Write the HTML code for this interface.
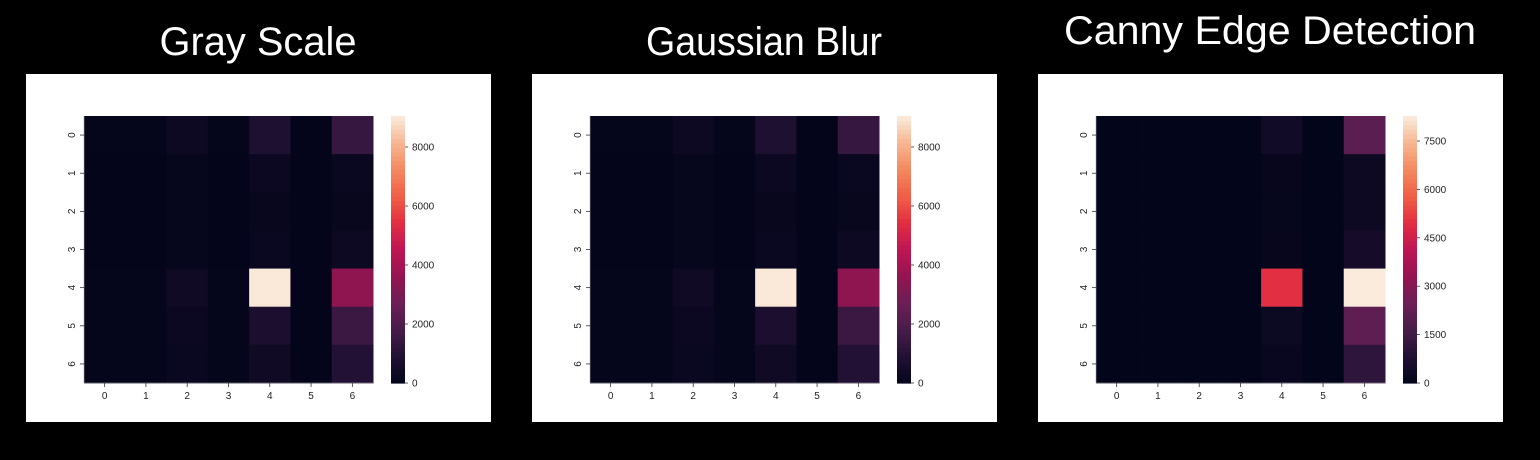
<!DOCTYPE html>
<html><head><meta charset="utf-8"><style>
body{margin:0;background:#000;width:1540px;height:460px;overflow:hidden}
svg{display:block}
text{font-family:"Liberation Sans",sans-serif}
</style></head><body>
<svg id="root" width="1540" height="460">
<rect width="1540" height="460" fill="#000"/>
</svg>
<script>
const rowLabels=["0","1","2","3","4","5","6"];
const colLabels=["0","1","2","3","4","5","6"];
const titles=["Gray Scale","Gaussian Blur","Canny Edge Detection"];
const grayValues=[
[50,50,300,50,800,20,1400],
[30,30,100,30,250,30,200],
[30,30,80,30,150,30,150],
[30,30,80,30,200,30,300],
[50,50,400,50,9000,30,3500],
[50,50,250,50,700,30,1500],
[50,50,200,50,400,30,900]];
const blurValues=[
[50,50,300,50,800,20,1400],
[30,30,100,30,250,30,200],
[30,30,80,30,150,30,150],
[30,30,80,30,200,30,300],
[50,50,400,50,9000,30,3500],
[50,50,250,50,700,30,1500],
[50,50,200,50,400,30,900]];
const cannyValues=[
[0,0,0,0,400,0,2100],
[0,0,0,0,100,0,300],
[0,0,0,0,80,0,300],
[0,0,0,0,100,0,500],
[0,0,0,0,5000,0,8275],
[0,0,0,0,250,0,2200],
[0,0,0,0,150,0,1100]];
const grayTicks=[0,2000,4000,6000,8000];
const blurTicks=[0,2000,4000,6000,8000];
const cannyTicks=[0,1500,3000,4500,6000,7500];
const grayMax=9050, blurMax=9050, cannyMax=8275;

const NS="http://www.w3.org/2000/svg";
const root=document.getElementById('root');
const stops=[[0,[3,5,26]],[0.1,[34,17,52]],[0.2,[70,28,72]],[0.3,[108,31,86]],[0.4,[148,20,80]],[0.5,[190,22,84]],[0.6,[226,45,66]],[0.7,[240,95,70]],[0.8,[244,136,95]],[0.9,[246,182,145]],[1,[250,235,221]]];
function rocket(t){t=Math.max(0,Math.min(1,t));for(let i=1;i<stops.length;i++){if(t<=stops[i][0]){const a=stops[i-1],b=stops[i];const f=(t-a[0])/(b[0]-a[0]);return 'rgb('+a[1].map((v,k)=>Math.round(v+(b[1][k]-v)*f)).join(',')+')';}}return 'rgb(250,235,221)';}
function el(tag,attrs,parent){const e=document.createElementNS(NS,tag);for(const k in attrs)e.setAttribute(k,attrs[k]);(parent||root).appendChild(e);return e;}

function panel(ox,values,vmax,ticks,title,titleY,titleW,key){
  const g=el('g',{});
  
  
  const t=el('text',{x:ox+232,y:titleY,'text-anchor':'middle',fill:'#fff','font-size':'40',textLength:titleW,lengthAdjust:'spacingAndGlyphs'},g);
  t.textContent=title;
  
  
  const bg=el('rect',{x:ox,y:74,width:465,height:348,fill:'#fff'},g);
  
  
  const x0=ox+58,y0=116,W=289,H=267,cw=W/colLabels.length,ch=H/rowLabels.length;
  const xs=i=>x0+i*cw, ys=j=>y0+j*ch;
  values.forEach((row,j)=>row.forEach((v,i)=>{
    const c=el('rect',{x:xs(i),y:ys(j),width:cw+0.5,height:ch+0.5,fill:rocket(v/vmax)},g);
    
    
  }));
  el('line',{x1:x0,y1:y0,x2:x0,y2:y0+H,stroke:'#aaa','stroke-width':0.6},g);
  el('line',{x1:x0,y1:y0+H,x2:x0+W,y2:y0+H,stroke:'#aaa','stroke-width':0.6},g);
  rowLabels.forEach((l,j)=>{
    const cy=ys(j)+ch/2;
    el('line',{x1:x0-4,y1:cy,x2:x0,y2:cy,stroke:'#333','stroke-width':0.8},g);
    const tx=el('text',{x:x0-9,y:cy,'font-size':'10',fill:'#222','text-anchor':'middle',transform:'rotate(-90 '+(x0-9)+' '+cy+')'},g);
    tx.textContent=l;
    
    
  });
  colLabels.forEach((l,i)=>{
    const cx=xs(i)+cw/2;
    el('line',{x1:cx,y1:y0+H,x2:cx,y2:y0+H+4,stroke:'#333','stroke-width':0.8},g);
    const tx=el('text',{x:cx,y:y0+H+16,'font-size':'10',fill:'#222','text-anchor':'middle'},g);
    tx.textContent=l;
    
    
  });
  const bx=ox+365,bw=14;
  const cbY=v=>y0+H-v/vmax*H;
  const n=60;
  for(let k=0;k<n;k++){
    const r=el('rect',{x:bx,y:y0+H*(1-(k+1)/n),width:bw,height:H/n+0.6,fill:rocket((k+0.5)/n)},g);
    
    
  }
  ticks.forEach(v=>{
    const y=cbY(v);
    el('line',{x1:bx+bw,y1:y,x2:bx+bw+3,y2:y,stroke:'#333','stroke-width':0.8},g);
    const tx=el('text',{x:bx+bw+7,y:y+3.5,'font-size':'10',fill:'#222'},g);
    tx.textContent=String(v);
    
    
  });
}
panel(26,grayValues,grayMax,grayTicks,titles[0],55,197,'gray-scale');
panel(532,blurValues,blurMax,blurTicks,titles[1],55,236,'gaussian-blur');
panel(1038,cannyValues,cannyMax,cannyTicks,titles[2],44,412,'canny-edge');
</script>
</body></html>
